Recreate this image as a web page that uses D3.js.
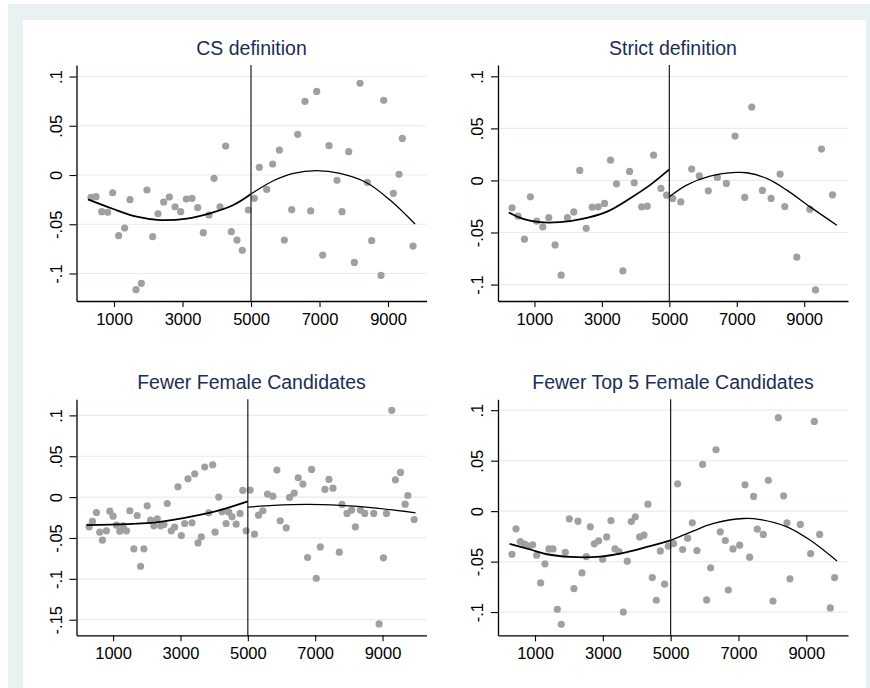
<!DOCTYPE html>
<html>
<head>
<meta charset="utf-8">
<script src="https://cdn.jsdelivr.net/npm/d3@7"></script>
<style>
  body { margin: 0; background: #fff; }
  svg { display: block; font-family: "Liberation Sans", Arial, sans-serif; }
</style>
</head>
<body>
<svg id="chart" width="870" height="688"></svg>
<script>
// binned scatter values, one pair of arrays per panel
var titles = ["CS definition", "Strict definition", "Fewer Female Candidates", "Fewer Top 5 Female Candidates"];
var xTicks = [1000, 3000, 5000, 7000, 9000];
var yTicksA = [-0.1, -0.05, 0, 0.05, 0.1];
var yTicksB = [-0.15, -0.1, -0.05, 0, 0.05, 0.1];
var cutoff = 5000;

var csX = [328,475,640,815,961,1136,1311,1467,1642,1798,1963,2129,2285,2450,2616,2781,2947,3112,3277,3443,3608,3774,3920,4095,4260,4426,4591,4747,4922,5097,5243,5458,5633,5828,5973,6188,6363,6577,6742,6918,7093,7278,7511,7657,7852,8017,8183,8397,8523,8796,8874,9156,9322,9419,9730];
var csY = [-0.0227,-0.022,-0.0372,-0.0379,-0.018,-0.0616,-0.0538,-0.025,-0.1164,-0.110,-0.0152,-0.0626,-0.0393,-0.0274,-0.0223,-0.0322,-0.0372,-0.0244,-0.0237,-0.0332,-0.0585,-0.0406,-0.0034,-0.0322,0.0294,-0.0575,-0.066,-0.0765,-0.0355,-0.0237,0.0078,-0.0146,0.0112,0.0254,-0.066,-0.0352,0.0413,0.0748,-0.0365,0.0849,-0.0812,0.0298,-0.0054,-0.0372,0.0237,-0.0887,0.0931,-0.0074,-0.0667,-0.1019,0.0758,-0.0186,0.0007,0.0372,-0.0721];
var csFitLX = [240,980,1662,2343,3122,3803,4484,5000];
var csFitLY = [-0.0247,-0.0345,-0.0423,-0.0457,-0.0443,-0.0389,-0.0305,-0.0193];
var csFitRX = [5000,5652,6236,6918,7599,8378,9059,9789];
var csFitRY = [-0.0193,-0.0058,0.0017,0.0044,0.0017,-0.0078,-0.0254,-0.0497];

var strictX = [336,514,702,880,1068,1247,1425,1613,1791,1979,2167,2345,2534,2712,2890,3078,3256,3434,3623,3820,3959,4177,4345,4533,4751,4919,5098,5340,5662,5890,6157,6424,6691,6949,7236,7444,7761,8018,8285,8424,8780,9166,9335,9513,9840];
var strictY = [-0.0263,-0.0343,-0.0564,-0.0157,-0.0391,-0.0446,-0.0356,-0.0619,-0.091,-0.0356,-0.0302,0.0096,-0.0459,-0.0257,-0.0253,-0.0221,0.0195,-0.0032,-0.0869,0.0087,-0.0023,-0.0253,-0.0247,0.0243,-0.0077,-0.0141,-0.0173,-0.0206,0.0109,0.0044,-0.01,0.0029,-0.0029,0.0426,-0.0163,0.0705,-0.0096,-0.0173,0.0061,-0.025,-0.0737,-0.0276,-0.1052,0.0301,-0.0138];
var strictFitLX = [240,662,1157,1751,2345,3137,3830,4424,5000];
var strictFitLY = [-0.0308,-0.0369,-0.0401,-0.0401,-0.0375,-0.0302,-0.0173,-0.0045,0.0106];
var strictFitRX = [5000,5513,6206,6998,7295,7889,8483,9176,9968];
var strictFitRY = [-0.0157,-0.0045,0.0041,0.0077,0.0074,0.0019,-0.0093,-0.0254,-0.043];

var femX = [287,386,505,604,684,803,902,1001,1100,1200,1299,1398,1497,1616,1715,1815,1914,2013,2112,2211,2311,2410,2509,2608,2727,2826,2926,3025,3124,3223,3342,3422,3521,3620,3719,3838,3957,4027,4136,4235,4354,4434,4533,4652,4771,4850,4949,5068,5197,5316,5445,5584,5743,5862,5961,6140,6239,6378,6497,6636,6774,6893,7032,7151,7290,7409,7528,7717,7796,7945,8084,8193,8342,8471,8739,8897,9026,9116,9274,9383,9532,9671,9751,9939];
var femY = [-0.0364,-0.0298,-0.0188,-0.0429,-0.0527,-0.0413,-0.0172,-0.0233,-0.0343,-0.0417,-0.0351,-0.0413,-0.0167,-0.0633,-0.0225,-0.0846,-0.0633,-0.0106,-0.0282,-0.0351,-0.0265,-0.0351,-0.0335,-0.0078,-0.0413,-0.0368,0.0127,-0.047,-0.0323,0.0225,-0.0314,0.0286,-0.056,-0.0486,0.0368,-0.0192,0.0396,-0.0429,0,-0.018,-0.0323,-0.0184,-0.0241,-0.0331,-0.02,0.0082,-0.0413,0.0086,-0.0453,-0.0221,-0.0167,0.0037,0.0012,0.0331,-0.029,-0.0376,-0.0004,0.0049,0.0237,0.0159,-0.0739,0.0339,-0.0993,-0.0609,0.0094,0.0217,0.011,-0.0674,-0.009,-0.02,-0.0159,-0.0364,-0.0159,-0.02,-0.02,-0.1552,-0.0743,-0.02,0.1062,0.0212,0.0302,-0.0086,0.002,-0.0274];
var femFitLX = [210,1398,2390,3382,4176,5000];
var femFitLY = [-0.0343,-0.0331,-0.0302,-0.0233,-0.0159,-0.0053];
var femFitRX = [5000,5763,6755,7747,8739,9979];
var femFitRY = [-0.0123,-0.0102,-0.009,-0.0102,-0.0131,-0.0192];

var top5X = [321,439,567,694,812,930,1048,1166,1294,1412,1530,1658,1776,1894,2012,2149,2267,2385,2513,2631,2749,2877,2995,3113,3240,3358,3476,3604,3722,3840,3958,4086,4213,4331,4459,4577,4695,4823,4931,5088,5206,5354,5501,5639,5776,5943,6061,6179,6337,6464,6612,6700,6838,7035,7192,7329,7447,7556,7732,7880,8018,8175,8332,8430,8519,8824,9128,9237,9394,9708,9836];
var top5Y = [-0.0427,-0.0175,-0.0301,-0.0327,-0.0347,-0.0334,-0.0437,-0.0711,-0.0522,-0.0374,-0.0374,-0.0972,-0.1121,-0.0407,-0.0076,-0.0767,-0.0099,-0.0612,-0.045,-0.0155,-0.0324,-0.0294,-0.0476,-0.0255,-0.0093,-0.0374,-0.04,-0.0999,-0.0496,-0.0103,-0.0056,-0.0255,-0.0238,0.0069,-0.0658,-0.0883,-0.0394,-0.0724,-0.0347,-0.0321,0.0271,-0.038,-0.0268,-0.0116,-0.039,0.0463,-0.088,-0.0562,0.0608,-0.0205,-0.0291,-0.0781,-0.0374,-0.0337,0.0261,-0.0456,0.0146,-0.0179,-0.0231,0.0305,-0.089,0.0926,0.0152,-0.0116,-0.0671,-0.0132,-0.042,0.0889,-0.0231,-0.0959,-0.0658];
var top5FitLX = [252,862,1353,2041,2828,3614,4302,5000];
var top5FitLY = [-0.0324,-0.038,-0.0427,-0.0453,-0.0453,-0.0413,-0.0354,-0.029];
var top5FitRX = [5000,5678,6268,7153,7644,8430,9119,9905];
var top5FitRY = [-0.029,-0.0195,-0.0122,-0.0073,-0.0083,-0.0155,-0.0288,-0.0493];

// panel table built from the arrays above
var panels = [
    {title: titles[0], xs: csX, ys: csY, lx: csFitLX, ly: csFitLY, rx: csFitRX, ry: csFitRY, yTicks: yTicksA,
     left: 76.5, top: 65, xDom: [-95, 10124], yDom: [-0.1279, 0.1117]},
    {title: titles[1], xs: strictX, ys: strictY, lx: strictFitLX, ly: strictFitLY, rx: strictFitRX, ry: strictFitRY, yTicks: yTicksA,
     left: 498, top: 65, xDom: [-81, 10299], yDom: [-0.1158, 0.1109]},
    {title: titles[2], xs: femX, ys: femY, lx: femFitLX, ly: femFitLY, rx: femFitRX, ry: femFitRY, yTicks: yTicksB,
     left: 76.5, top: 399.3, xDom: [-87, 10305], yDom: [-0.1691, 0.1197]},
    {title: titles[3], xs: top5X, ys: top5Y, lx: top5FitLX, ly: top5FitLY, rx: top5FitRX, ry: top5FitRY, yTicks: yTicksA,
     left: 498, top: 399.3, xDom: [-91, 10230], yDom: [-0.123, 0.1108]}
];

var plotW = 350, plotH = 236;
var svg = d3.select("#chart");

// graph region background (light bluish gray frame, white inside)
svg.append("rect").attr("x", 8).attr("y", 4).attr("width", 862).attr("height", 684).attr("fill", "#e9f1f3");
svg.append("rect").attr("x", 23).attr("y", 20).attr("width", 843).attr("height", 668).attr("fill", "#ffffff");

function fmtY(v) {
    if (v == 0) return "0";
    var s = String(v);
    return s.replace("0.", ".");
}

panels.forEach(function(p) {
    var xScale = d3.scaleLinear().domain(p.xDom).range([0, plotW]);
    var yScale = d3.scaleLinear().domain(p.yDom).range([plotH, 0]);

    var g = svg.append("g")
        .attr("transform", "translate(" + p.left + "," + p.top + ")");

    // horizontal grid at the y ticks
    g.selectAll("line.grid")
        .data(p.yTicks)
        .enter()
        .append("line")
        .attr("class", "grid")
        .attr("x1", 0)
        .attr("x2", plotW)
        .attr("y1", function(d) { return yScale(d); })
        .attr("y2", function(d) { return yScale(d); })
        .attr("stroke", "#e3edf1")
        .attr("stroke-width", 1.2);

    g.selectAll("circle")
        .data(p.xs)
        .enter()
        .append("circle")
        .attr("cx", function(d) { return xScale(d); })
        .attr("cy", function(d, i) { return yScale(p.ys[i]); })
        .attr("r", 3.6)
        .attr("fill", "#a0a0a0");

    var line = d3.line()
        .x(function(d) { return xScale(d[0]); })
        .y(function(d) { return yScale(d[1]); })
        .curve(d3.curveCatmullRom);

    g.append("path")
        .attr("d", line(d3.zip(p.lx, p.ly)))
        .attr("fill", "none")
        .attr("stroke", "#000")
        .attr("stroke-width", 1.8);
    g.append("path")
        .attr("d", line(d3.zip(p.rx, p.ry)))
        .attr("fill", "none")
        .attr("stroke", "#000")
        .attr("stroke-width", 1.3);

    // cutoff line
    g.append("line")
        .attr("x1", xScale(cutoff))
        .attr("x2", xScale(cutoff))
        .attr("y1", 0)
        .attr("y2", plotH)
        .attr("stroke", "#1a1a1a")
        .attr("stroke-width", 1.2);

    var xAxis = g.append("g")
        .attr("transform", "translate(0," + plotH + ")")
        .call(d3.axisBottom(xScale).tickValues(xTicks).tickSize(6).tickSizeOuter(0).tickPadding(6.3).tickFormat(d3.format("d")));
    xAxis.selectAll("text").attr("font-size", 16.5).attr("fill", "#000").attr("font-family", "Liberation Sans, Arial, sans-serif");

    var yAxis = g.append("g")
        .call(d3.axisLeft(yScale).tickValues(p.yTicks).tickSize(7).tickSizeOuter(0).tickFormat(fmtY));
    yAxis.selectAll("text")
        .attr("transform", "rotate(-90)")
        .attr("x", 0)
        .attr("y", -15)
        .attr("dy", 0)
        .attr("text-anchor", "middle")
        .attr("font-size", 16.5)
        .attr("fill", "#000")
        .attr("font-family", "Liberation Sans, Arial, sans-serif");

    g.selectAll(".domain").attr("stroke", "#000").attr("stroke-width", 1.3);
    g.selectAll(".tick line").attr("stroke", "#000").attr("stroke-width", 1.1);

    g.append("text")
        .attr("x", plotW / 2)
        .attr("y", -10)
        .attr("text-anchor", "middle")
        .attr("font-size", 19.5)
        .attr("fill", "#1c2d58")
        .text(p.title);
});
</script>
</body>
</html>
